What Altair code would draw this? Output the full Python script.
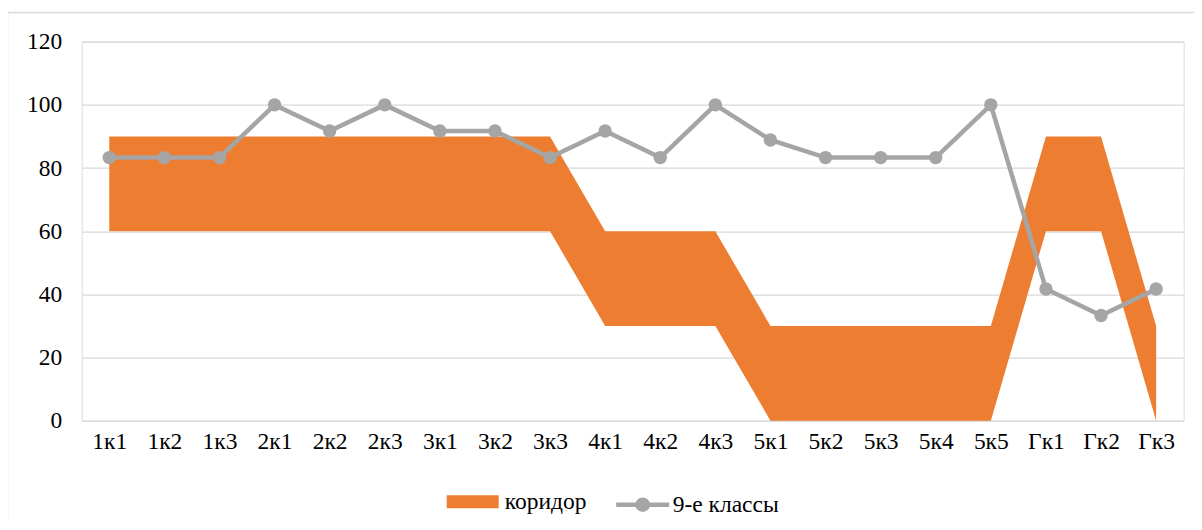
import altair as alt
import pandas as pd

categories = ["1к1", "1к2", "1к3", "2к1", "2к2", "2к3", "3к1", "3к2", "3к3",
              "4к1", "4к2", "4к3", "5к1", "5к2", "5к3", "5к4", "5к5",
              "Гк1", "Гк2", "Гк3"]
corridor_low = [60, 60, 60, 60, 60, 60, 60, 60, 60,
                30, 30, 30, 0, 0, 0, 0, 0,
                60, 60, 0]
corridor_high = [90, 90, 90, 90, 90, 90, 90, 90, 90,
                 60, 60, 60, 30, 30, 30, 30, 30,
                 90, 90, 30]
grade9 = [83.3, 83.3, 83.3, 100, 91.7, 100, 91.7, 91.7, 83.3,
          91.7, 83.3, 100, 88.9, 83.3, 83.3, 83.3, 100,
          41.7, 33.3, 41.7]
y_ticks = [0, 20, 40, 60, 80, 100, 120]

ORANGE = "#ED7D31"
GRAY = "#A5A5A5"
GRID = "#D9D9D9"
FONT = "Liberation Serif"
FS = 23.5

W, H = 1102, 379

df = pd.DataFrame({
    "cat": categories,
    "low": corridor_low,
    "high": corridor_high,
    "val": grade9,
    "band": ["коридор"] * len(categories),
    "ser": ["9-е классы"] * len(categories),
})

xenc = alt.X("cat:N", sort=categories, title=None,
             scale=alt.Scale(type="point", padding=0.5),
             axis=alt.Axis(labelAngle=0, ticks=False, domain=False, grid=False,
                           labelPadding=9, labelFont=FONT, labelFontSize=FS,
                           labelColor="#000000"))
yscale = alt.Scale(domain=[0, 120], nice=False, zero=True)

frame = alt.Chart(alt.Data(values=[{"a": 1}])).mark_rect(
    filled=False, stroke=GRID, strokeWidth=1.5
).encode(
    x=alt.value(-74.2), x2=alt.value(W + 200),
    y=alt.value(-29.2), y2=alt.value(H + 300)
)

base = alt.Chart(df)

area = base.mark_area(opacity=1, interpolate="linear").encode(
    x=xenc,
    y=alt.Y("low:Q", scale=yscale, title=None,
            axis=alt.Axis(values=y_ticks, ticks=False, domain=False, grid=True,
                          gridColor=GRID, gridWidth=1.3, labelPadding=20,
                          labelFont=FONT, labelFontSize=FS, labelColor="#000000")),
    y2="high:Q",
    fill=alt.Fill("band:N", scale=alt.Scale(domain=["коридор"], range=[ORANGE]),
                  legend=alt.Legend(title=None, orient="none", legendX=365, legendY=434,
                                    symbolType="M-1,-0.25H1V0.25H-1Z", symbolSize=2704,
                                    symbolStrokeWidth=0, labelFont=FONT, labelFontSize=FS,
                                    labelColor="#000000", labelOffset=6, labelLimit=400)),
)

line = base.mark_line(strokeWidth=4.5).encode(
    x=alt.X("cat:N", sort=categories),
    y=alt.Y("val:Q", scale=yscale),
    stroke=alt.Stroke("ser:N", scale=alt.Scale(domain=["9-е классы"], range=[GRAY]),
                      legend=alt.Legend(title=None, orient="none", legendX=532, legendY=434,
                                        symbolType="M-1,0H1M0.19,0A0.19,0.19,0,1,1,-0.19,0A0.19,0.19,0,1,1,0.19,0Z",
                                        symbolSize=2809, symbolStrokeWidth=4.5,
                                        symbolFillColor=GRAY,
                                        labelFont=FONT, labelFontSize=FS,
                                        labelColor="#000000", labelOffset=1, labelLimit=400)),
)

points = base.mark_circle(size=180, opacity=1, color=GRAY).encode(
    x=alt.X("cat:N", sort=categories),
    y=alt.Y("val:Q", scale=yscale),
)

chart = alt.layer(frame, area, line, points).properties(
    width=W, height=H,
    autosize=alt.AutoSizeParams(type="none"),
    padding={"left": 73.7, "top": 33.7, "right": 10, "bottom": 100},
).configure_view(stroke=None).configure(background="white")

chart.save("out.html", embed_options={"renderer": "svg", "actions": False})
